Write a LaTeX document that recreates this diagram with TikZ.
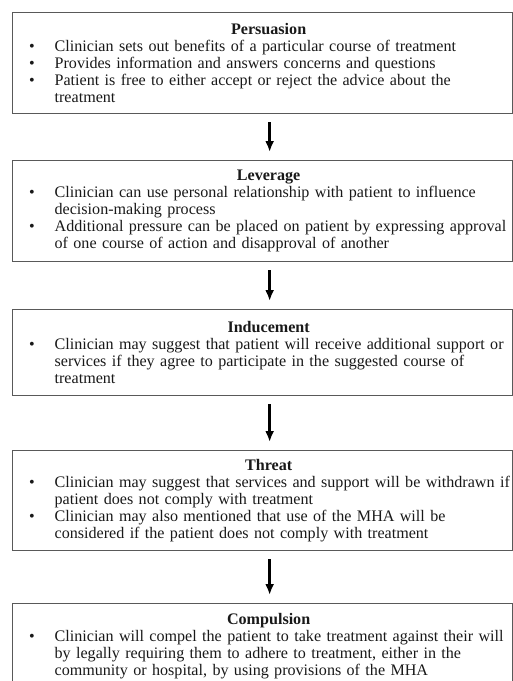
\documentclass[tikz,border=0pt]{standalone}
\usepackage{fontspec}
\setmainfont{Liberation Serif}
\usetikzlibrary{positioning,arrows.meta}

\newenvironment{stagelist}{%
  \begin{list}{\textbullet}{%
    \setlength{\leftmargin}{42pt}\setlength{\labelsep}{20pt}%
    \setlength{\labelwidth}{20pt}\setlength{\rightmargin}{-40pt}%
    \setlength{\itemsep}{0pt}\setlength{\parsep}{0pt}%
    \setlength{\topsep}{0pt}\setlength{\partopsep}{0pt}}\raggedright}%
  {\end{list}}
\newcommand{\stagetitle}[1]{\makebox[\linewidth]{\hspace{12pt}\textbf{#1}}\par}

\begin{document}
\begin{tikzpicture}[x=1pt,y=1pt,
    stage/.style={draw=black!65, line width=1.3pt, anchor=north west,
      minimum width=500pt, text width=500pt, inner xsep=0pt, inner ysep=0pt,
      text=black!90, font=\fontsize{16.1}{17}\selectfont},
    flow/.style={-{Latex[length=11pt,width=9pt]}, line width=2.6pt,
      shorten <=8pt, shorten >=8pt}]
    \useasboundingbox (0,0) rectangle (513,-681);

    \node[stage, minimum height=101pt] (persuasion) at (12,-12) {%
      \stagetitle{Persuasion}
      \begin{stagelist}
        \item Clinician sets out benefits of a particular course of treatment
        \item Provides information and answers concerns and questions
        \item Patient is free to either accept or reject the advice about the\newline treatment
      \end{stagelist}};
    \node[stage, minimum height=101pt] (leverage) at (12,-160) {%
      \stagetitle{Leverage}
      \begin{stagelist}
        \item Clinician can use personal relationship with patient to influence\newline decision-making process
        \item Additional pressure can be placed on patient by expressing approval\newline of one course of action and disapproval of another
      \end{stagelist}};
    \node[stage, minimum height=86pt] (inducement) at (12,-309) {%
      \stagetitle{Inducement}
      \begin{stagelist}
        \item Clinician may suggest that patient will receive additional support or\newline services if they agree to participate in the suggested course of\newline treatment
      \end{stagelist}};
    \node[stage, minimum height=100pt] (threat) at (12,-450) {%
      \stagetitle{Threat}
      \begin{stagelist}
        \item Clinician may suggest that services and support will be withdrawn if\newline patient does not comply with treatment
        \item Clinician may also mentioned that use of the MHA will be\newline considered if the patient does not comply with treatment
      \end{stagelist}};
    \node[stage, minimum height=85pt] (compulsion) at (12,-603) {%
      \stagetitle{Compulsion}
      \begin{stagelist}
        \item Clinician will compel the patient to take treatment against their will\newline by legally requiring them to adhere to treatment, either in the\newline community or hospital, by using provisions of the MHA
      \end{stagelist}};

    % arrows between the stages
    \draw[flow] ([xshift=7pt]persuasion.south) -- ([xshift=7pt]leverage.north);
    \draw[flow] ([xshift=7pt]leverage.south) -- ([xshift=7pt]inducement.north);
    \draw[flow] ([xshift=7pt]inducement.south) -- ([xshift=7pt]threat.north);
    \draw[flow] ([xshift=7pt]threat.south) -- ([xshift=7pt]compulsion.north);
\end{tikzpicture}
\end{document}
